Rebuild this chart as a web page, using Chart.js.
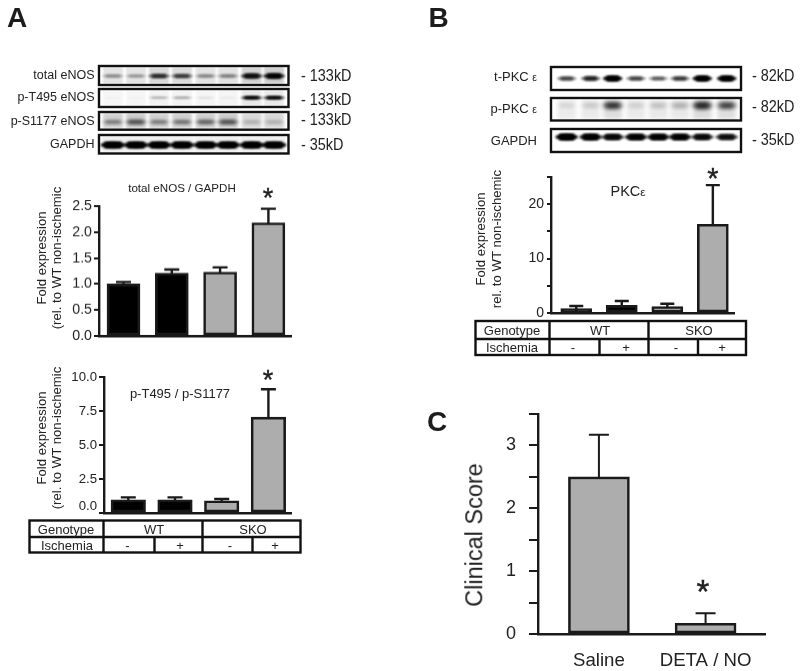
<!DOCTYPE html>
<html>
<head>
<meta charset="utf-8">
<script src="https://cdn.jsdelivr.net/npm/chart.js@4"></script>
<style>
html,body{margin:0;padding:0;background:#fff;}
#page{position:relative;width:800px;height:671px;overflow:hidden;font-family:"Liberation Sans",Arial,sans-serif;color:#222;}
canvas{position:absolute;}
.t{position:absolute;white-space:nowrap;line-height:1;transform:translate(-50%,-50%);}
.r{transform:translate(-100%,-50%);}
.l{transform:translate(0,-50%);}
.v{transform:translate(-50%,-50%) rotate(-90deg);}
.star{-webkit-text-stroke:.4px #222;}
small{font-size:.8em;}
</style>
</head>
<body>
<div id="page"><canvas id="bg" width="800" height="671" style="left:0;top:0"></canvas></div>
<script>
// ---------- data ----------
const groupLabels = ['WT-', 'WT+', 'SKO-', 'SKO+'];
const eNOSMeans = [1.0, 1.21, 1.23, 2.18];
const eNOSTops  = [1.04, 1.28, 1.32, 2.45];
const phosphoMeans = [0.97, 0.97, 0.9, 7.05];
const phosphoTops  = [1.15, 1.15, 1.03, 9.1];
const pkcMeans = [0.8, 1.4, 1.2, 16.3];
const pkcTops  = [1.3, 2.2, 1.7, 23.5];
const clinicalLabels = ['Saline', 'DETA / NO'];
const clinicalMeans = [2.5, 0.17];
const clinicalTops  = [3.17, 0.33];
const eNOSTicks = [0, 0.5, 1, 1.5, 2, 2.5];
const phosphoTicks = [0, 2.5, 5, 7.5, 10];
const pkcTicks = [0, 5, 10, 15, 20, 25];
const clinicalTicks = [0, 0.5, 1, 1.5, 2, 2.5, 3, 3.5];
const blotTotalENOS = [.25, .22, .58, .50, .26, .28, .78, .90];
const blotPT495     = [.03, .03, .22, .25, .08, .05, .95, .95];
const blotPS1177    = [.25, .38, .25, .28, .32, .38, .12, .12];
const blotGapdhA    = [1, 1, 1, 1, 1, 1, 1, 1];
const blotTPKC      = [.50, .65, 1, .50, .42, .55, 1, 1];
const blotPPKC      = [.08, .12, .62, .10, .15, .20, .68, .55];
const blotGapdhB    = [1, .95, .85, .92, .92, .92, .82, .78];

// ---------- layout ----------
const BLACK = '#000', GRAY = '#adadad', INK = '#1a1a1a';
const page = document.getElementById('page');
function text(s, x, y, size, cls, extra) {
  const d = document.createElement('div');
  d.className = 't ' + (cls || '');
  d.style.left = x + 'px'; d.style.top = y + 'px'; d.style.fontSize = size + 'px';
  if (extra) Object.assign(d.style, extra);
  d.innerHTML = s;
  page.appendChild(d);
}

// ---------- charts ----------
function makeChart(cfg) {
  const c = document.createElement('canvas');
  const pad = {l: 60, t: 14, r: 12, b: cfg.bottom || 10};
  const W = cfg.R - cfg.L + pad.l + pad.r, H = cfg.B - cfg.T + pad.t + pad.b;
  c.style.left = (cfg.L - pad.l) + 'px'; c.style.top = (cfg.T - pad.t) + 'px';
  c.style.width = W + 'px'; c.style.height = H + 'px';
  page.appendChild(c);
  const xMin = 1 - (cfg.c0 - cfg.L) / cfg.step, xMax = 1 + (cfg.R - cfg.c0) / cfg.step;
  const errorBars = {
    id: 'errorBars',
    beforeDatasetsDraw(chart) {
      const g = chart.ctx, xs = chart.scales.x, ys = chart.scales.y;
      g.save(); g.strokeStyle = INK; g.lineWidth = cfg.errW || 2.4; g.lineCap = 'butt';
      cfg.tops.forEach((v, i) => {
        const x = xs.getPixelForValue(i + 1), y = ys.getPixelForValue(v), y0 = ys.getPixelForValue(cfg.means[i]);
        g.beginPath();
        g.moveTo(x, y0 + 2); g.lineTo(x, y);
        g.moveTo(x - cfg.cap / 2, y); g.lineTo(x + cfg.cap / 2, y);
        g.stroke();
      });
      g.restore();
    }
  };
  const shiftZero = {
    id: 'shiftZero',
    beforeDraw(chart) {
      if (!cfg.zeroLift) return;
      chart.scales.y.getLabelItems().forEach(it => {
        if (it.label === '0.0') it.options.translation = [it.options.translation[0], it.options.translation[1] - cfg.zeroLift];
      });
    }
  };
  return new Chart(c, {
    type: 'bar',
    data: {
      datasets: [{
        data: cfg.means.map((v, i) => ({x: i + 1, y: v})),
        backgroundColor: cfg.colors,
        borderColor: INK,
        borderWidth: cfg.bw || 2.6,
        borderSkipped: false,
        barThickness: cfg.bar
      }]
    },
    options: {
      responsive: false, animation: false, devicePixelRatio: 1,
      layout: {padding: {left: 0, top: pad.t, right: pad.r, bottom: 0}},
      plugins: {legend: {display: false}, title: {display: false}, tooltip: {enabled: false}},
      scales: {
        x: {
          type: 'linear', min: xMin, max: xMax, offset: false,
          afterBuildTicks(s) { s.ticks = cfg.means.map((v, i) => ({value: i + 1})); },
          afterFit(s) { s.height = pad.b; s.paddingLeft = 0; s.paddingRight = 0; },
          ticks: {
            display: !!cfg.xLabels, autoSkip: false, maxRotation: 0, padding: cfg.xPad || 0,
            font: {family: 'Liberation Sans', size: 18.6}, color: '#222',
            callback: v => cfg.xLabels ? cfg.xLabels[v - 1] : ''
          },
          grid: {drawOnChartArea: false, drawTicks: false},
          border: {display: true, color: INK, width: cfg.axisW || 2.4}
        },
        y: {
          type: 'linear', min: cfg.yTicks[0], max: cfg.yTicks[cfg.yTicks.length - 1],
          afterBuildTicks(s) { s.ticks = cfg.yTicks.map(v => ({value: v})); },
          afterFit(s) { s.width = pad.l; s.paddingTop = 0; s.paddingBottom = 0; },
          ticks: {
            autoSkip: false, padding: cfg.tickPad || 2, color: '#222',
            font: {family: 'Liberation Sans', size: cfg.tickSize},
            callback: cfg.tickFmt
          },
          grid: {drawOnChartArea: false, drawTicks: true, tickLength: cfg.tick, color: INK, lineWidth: cfg.axisW || 2},
          border: {display: true, color: INK, width: cfg.axisW || 2.4}
        }
      }
    },
    plugins: [errorBars, shiftZero]
  });
}
const four = [BLACK, BLACK, GRAY, GRAY];
makeChart({L: 99, R: 291, T: 206, B: 335.7, c0: 123.5, step: 48.3, bar: 33, cap: 15, tick: 5, tickSize: 14.2,
  means: eNOSMeans, tops: eNOSTops, colors: four, yTicks: eNOSTicks, tickFmt: v => v.toFixed(1)});
makeChart({L: 104, R: 291, T: 376.7, B: 513.3, c0: 128.3, step: 46.7, bar: 34.5, cap: 15, tick: 5, tickSize: 13.2, zeroLift: 7,
  means: phosphoMeans, tops: phosphoTops, colors: four, yTicks: phosphoTicks, tickFmt: v => v.toFixed(1)});
makeChart({L: 550.7, R: 734, T: 176.5, B: 312.5, c0: 576, step: 45.6, bar: 31, cap: 14, tick: 4, tickSize: 14, tickPad: 3,
  means: pkcMeans, tops: pkcTops, colors: four, yTicks: pkcTicks, tickFmt: v => v % 10 === 0 ? String(v) : ''});
makeChart({L: 537.7, R: 765, T: 414, B: 634.3, c0: 598.7, step: 106.8, bar: 61, cap: 20, tick: 9, tickSize: 18, tickPad: 13, bottom: 36, xPad: 16,
  xLabels: clinicalLabels, errW: 2,
  means: clinicalMeans, tops: clinicalTops, colors: [GRAY, GRAY], yTicks: clinicalTicks, tickFmt: v => Number.isInteger(v) ? String(v) : ''});

// ---------- blots and tables ----------
const g = document.getElementById('bg').getContext('2d');
function blot(x0, x1, y0, y1, lanes, bands, yc, thick, wash, laneW, blur) {
  g.save();
  g.beginPath(); g.rect(x0, y0, x1 - x0, y1 - y0); g.clip();
  g.filter = 'blur(' + (blur || 1.2) + 'px)';
  lanes.forEach((cx, i) => {
    if (wash) { g.fillStyle = 'rgba(0,0,0,' + (wash + bands[i] * wash * 1.5) + ')'; g.fillRect(cx - laneW / 2, y0 + 1, laneW, y1 - y0 - 2); }
  });
  lanes.forEach((cx, i) => {
    g.fillStyle = 'rgba(0,0,0,' + bands[i] + ')';
    const t = thick * (0.45 + 0.55 * bands[i]);
    g.beginPath(); g.ellipse(cx, yc, laneW / 2 + 1, t / 2, 0, 0, Math.PI * 2); g.fill();
    g.fillRect(cx - laneW / 2 + 3, yc - t / 2, laneW - 6, t);
  });
  g.restore();
  g.strokeStyle = '#111'; g.lineWidth = 2.4;
  g.strokeRect(x0, y0, x1 - x0, y1 - y0);
}
const lanesA = [113, 136, 159, 182, 205.7, 228, 251.7, 274];
const lanesB = [566.7, 590.7, 612.7, 636, 658.3, 680, 702.3, 726.7];
blot(99, 288.5, 66, 85, lanesA, blotTotalENOS, 76, 5.5, .08, 20);
blot(99, 288.5, 89, 107, lanesA, blotPT495, 97.7, 3, .035, 20, .8);
blot(99, 288.5, 112, 129.7, lanesA, blotPS1177, 122, 7, .13, 20, 1.5);
blot(99, 288.5, 135, 153.5, lanesA, blotGapdhA, 145, 6.5, .025, 23, .8);
blot(551, 741, 67, 90, lanesB, blotTPKC, 78.5, 5.5, 0, 18, .8);
blot(551, 741, 98, 120.5, lanesB, blotPPKC, 105.5, 7, .07, 19, 2);
blot(551, 741, 129, 152, lanesB, blotGapdhB, 137, 6.5, 0, 21, .8);

function table(x0, x1, y0, y1, yMid, c1, c2, c3a, c3b) {
  g.strokeStyle = '#111'; g.lineWidth = 2.4;
  g.strokeRect(x0, y0, x1 - x0, y1 - y0);
  g.beginPath();
  g.moveTo(x0, yMid); g.lineTo(x1, yMid);
  g.moveTo(c1, y0); g.lineTo(c1, y1);
  g.moveTo(c2, y0); g.lineTo(c2, y1);
  g.moveTo(c3a, yMid); g.lineTo(c3a, y1);
  g.moveTo(c3b, yMid); g.lineTo(c3b, y1);
  g.stroke();
}
table(29.5, 300.5, 520.5, 552.5, 537, 103.5, 202.5, 154.5, 252.5);
table(475.5, 746, 321, 355, 339, 549.5, 648.5, 599.5, 698);

// ---------- text ----------
text('A', 17, 17.5, 28, '', {fontWeight: 'bold', color: '#1c1c1c'});
text('B', 438.5, 18, 28, '', {fontWeight: 'bold', color: '#1c1c1c'});
text('C', 437, 421.5, 28, '', {fontWeight: 'bold', color: '#1c1c1c'});

[['total eNOS', 75], ['p-T495 eNOS', 97], ['p-S1177 eNOS', 121], ['GAPDH', 144]].forEach(a => text(a[0], 94.5, a[1], 12.5, 'r'));
const squeeze = {transform: 'translate(0,-50%) scaleX(.86)', transformOrigin: 'left center'};
[['- 133kD', 76], ['- 133kD', 100], ['- 133kD', 120], ['- 35kD', 145]].forEach(a => text(a[0], 301, a[1], 16.8, 'l', squeeze));
[['t-PKC <small>ε</small>', 77], ['p-PKC <small>ε</small>', 109], ['GAPDH', 140]].forEach(a => text(a[0], 537, a[1], 13, 'r'));
[['- 82kD', 76], ['- 82kD', 107], ['- 35kD', 140]].forEach(a => text(a[0], 752, a[1], 16.8, 'l', squeeze));

text('total eNOS / GAPDH', 182, 188, 11.6);
text('p-T495 / p-S1177', 180, 393, 13);
text('PKC<small>ε</small>', 628, 191, 14.5);

text('Fold expression', 42, 258, 13.2, 'v');
text('(rel. to WT non-ischemic', 57, 257.5, 13.2, 'v');
text('Fold expression', 42, 438, 13.2, 'v');
text('(rel. to WT non-ischemic', 57, 438, 13.2, 'v');
text('Fold expression', 481, 239, 13.2, 'v');
text('rel. to WT non-ischemic', 497, 239, 13.2, 'v');
text('Clinical Score', 475, 534.5, 23.5, 'v');

[[268, 198, 27], [268, 380, 27], [713, 178, 29], [703, 591, 33]].forEach(a => text('*', a[0], a[1], a[2], 'star'));

[['Genotype', 66, 529], ['WT', 154, 529], ['SKO', 253, 529], ['Ischemia', 67, 545],
 ['-', 127.5, 544.5], ['+', 180, 544.5], ['-', 230, 544.5], ['+', 275, 544.5],
 ['Genotype', 512, 330], ['WT', 600, 330], ['SKO', 699, 330], ['Ischemia', 512, 347],
 ['-', 573, 346.5], ['+', 626, 346.5], ['-', 676, 346.5], ['+', 722, 346.5]
].forEach(a => text(a[0], a[1], a[2], 13));
</script>
</body>
</html>
